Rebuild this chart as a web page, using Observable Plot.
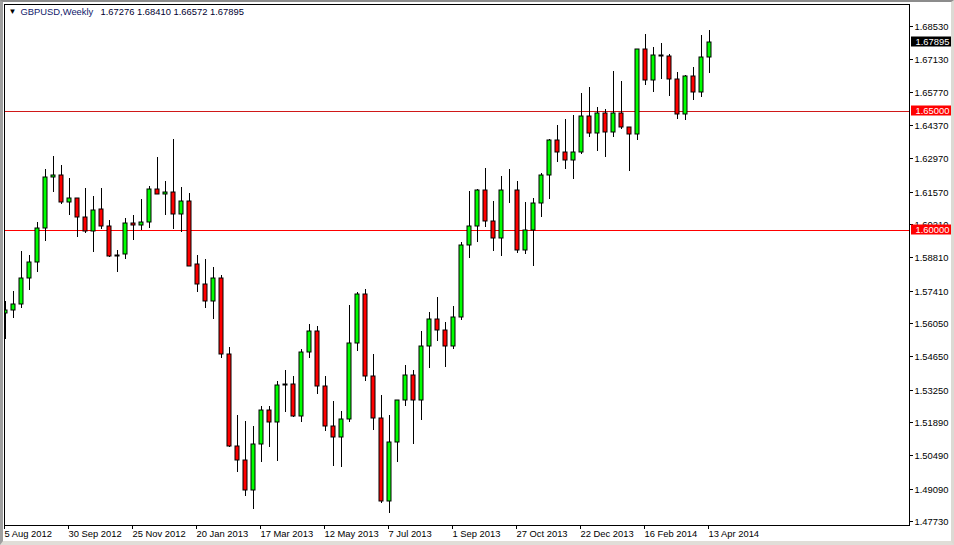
<!DOCTYPE html>
<html><head><meta charset="utf-8">
<script src="https://cdn.jsdelivr.net/npm/d3@7"></script>
<script src="https://cdn.jsdelivr.net/npm/@observablehq/plot@0.6"></script>
<style>
html,body{margin:0;padding:0;background:#fff}
#chart{position:relative;width:954px;height:545px;overflow:hidden}
#chart svg{display:block}
#chrome{position:absolute;inset:0;box-sizing:border-box;border-left:3px solid #a0a0a0;border-top:2px solid #8c8c8c;border-right:3px solid #dcdad4;border-bottom:4px solid #e0ded8;pointer-events:none}
</style></head><body>
<div id="chart"><div id="chrome"></div></div>
<script>
const symbol = "GBPUSD,Weekly";
const ohlcText = "1.67276 1.68410 1.66572 1.67895";
const opens = [1.56488,1.56622,1.56874,1.57967,1.58639,1.60068,1.6221,1.62294,1.61185,1.61328,1.6053,1.59941,1.60866,1.60152,1.58933,1.58975,1.60278,1.60194,1.6032,1.61706,1.61496,1.6158,1.60656,1.61202,1.58555,1.57715,1.57,1.57967,1.54773,1.50933,1.50319,1.49059,1.50992,1.5242,1.51942,1.53471,1.53513,1.52194,1.54857,1.5574,1.53429,1.51748,1.51286,1.52042,1.55236,1.57294,1.53849,1.52084,1.48597,1.51076,1.5284,1.53891,1.5284,1.55122,1.56244,1.55782,1.55135,1.56328,1.59353,1.60152,1.61664,1.60362,1.59647,1.61664,1.6169,1.59168,1.59984,1.61118,1.62294,1.63765,1.63261,1.6295,1.63261,1.64773,1.64084,1.64899,1.64126,1.64899,1.64336,1.64042,1.67589,1.66286,1.67336,1.67294,1.66353,1.64883,1.66454,1.65782,1.67276];
const highs = [1.57013,1.57433,1.59114,1.58946,1.6032,1.62547,1.63105,1.62727,1.62181,1.61328,1.61761,1.61425,1.61761,1.60416,1.59156,1.605,1.60626,1.61299,1.61845,1.63063,1.62055,1.6382,1.6179,1.61538,1.58946,1.58778,1.58441,1.58105,1.55067,1.52223,1.51971,1.51761,1.52601,1.52601,1.53639,1.54114,1.53849,1.54983,1.56034,1.55962,1.53849,1.52811,1.52378,1.56845,1.57378,1.57517,1.54786,1.53063,1.52223,1.5284,1.54324,1.54114,1.55752,1.56538,1.57181,1.5613,1.56803,1.59492,1.61635,1.61706,1.62601,1.61215,1.62265,1.62559,1.62055,1.61173,1.61341,1.62391,1.63807,1.64408,1.6466,1.64828,1.65752,1.66005,1.65164,1.6508,1.66677,1.66257,1.64336,1.67589,1.68231,1.67685,1.67853,1.67391,1.66635,1.66509,1.66845,1.68189,1.6841];
const lows = [1.55416,1.56311,1.56731,1.57488,1.58244,1.59547,1.61605,1.61101,1.60626,1.59715,1.59883,1.59084,1.60051,1.58849,1.58244,1.5879,1.59588,1.59984,1.60093,1.61496,1.60639,1.60051,1.59899,1.58496,1.57404,1.56731,1.56257,1.54605,1.50891,1.4984,1.48832,1.48286,1.50261,1.50891,1.50303,1.52362,1.52152,1.51942,1.5463,1.53118,1.51563,1.50093,1.50051,1.51942,1.54925,1.5366,1.51605,1.48538,1.48118,1.50261,1.52601,1.51004,1.52013,1.5421,1.55332,1.54252,1.54996,1.56215,1.58832,1.59492,1.60122,1.59114,1.58904,1.6113,1.5903,1.58988,1.58484,1.60542,1.61299,1.62853,1.62559,1.62139,1.63202,1.63916,1.63328,1.63076,1.63916,1.64252,1.62475,1.63778,1.66101,1.65807,1.66341,1.65639,1.64673,1.64631,1.65471,1.65584,1.66572];
const closes = [1.56614,1.56874,1.57967,1.58639,1.60068,1.6221,1.62294,1.61185,1.61328,1.6053,1.59941,1.60824,1.60152,1.58891,1.58891,1.60278,1.60194,1.6032,1.61706,1.61496,1.6158,1.60656,1.61202,1.58496,1.57715,1.57,1.57967,1.54773,1.50933,1.50319,1.49059,1.50992,1.5242,1.51942,1.53471,1.53513,1.52194,1.54857,1.5574,1.53429,1.51748,1.51286,1.52042,1.55236,1.57294,1.53849,1.52084,1.48597,1.51076,1.5284,1.53891,1.5284,1.55122,1.56244,1.55782,1.55135,1.56328,1.59353,1.60152,1.61664,1.60362,1.59647,1.61664,1.6169,1.59168,1.59984,1.61118,1.62294,1.63765,1.63261,1.6295,1.63261,1.64773,1.64084,1.64899,1.64126,1.64899,1.64336,1.64042,1.67589,1.66286,1.67336,1.67294,1.66353,1.64883,1.66454,1.65782,1.67276,1.67895];
const priceTicks = [1.6853,1.6713,1.6577,1.6437,1.6297,1.6157,1.6021,1.5881,1.5741,1.5605,1.5465,1.5325,1.5189,1.5049,1.4909,1.4773];
const dateLabels = ["5 Aug 2012","30 Sep 2012","25 Nov 2012","20 Jan 2013","17 Mar 2013","12 May 2013","7 Jul 2013","1 Sep 2013","27 Oct 2013","22 Dec 2013","16 Feb 2014","13 Apr 2014"];
const dateTickIndex = [0,8,16,24,32,40,48,56,64,72,80,88];
const levels = [1.65,1.6];
const levelColors = ["#d01818","#ff0000"];
const lastPrice = 1.67895;

const candles = opens.map((o,i)=>({i,o,h:highs[i],l:lows[i],c:closes[i]}));
const font = "'Liberation Sans', Arial, sans-serif";
const tagX1 = 113.25, tagX2 = 118.5, textX = 113.75;
const tags = [
  {p:levels[0],bg:"#ff0000"},
  {p:levels[1],bg:"#ff0000"},
  {p:lastPrice,bg:"#000000"}
];

const chart = Plot.plot({
  width:954,height:545,
  marginLeft:4,marginRight:45,marginTop:4,marginBottom:20,
  style:{fontFamily:font,fontSize:"9.4px",background:"#fff",color:"#000"},
  x:{domain:[-0.125,113],axis:null,label:null},
  y:{domain:[1.47601,1.69492],round:true,axis:null,label:null},
  marks:[
    Plot.ruleY(levels,{stroke:(d,k)=>levelColors[k],strokeWidth:1}),
    Plot.ruleX(candles,{x:"i",y1:"l",y2:"h",stroke:"#000",strokeWidth:1,clip:true}),
    Plot.rect(candles,{x1:d=>d.i-0.25,x2:d=>d.i+0.25,y1:"o",y2:"c",fill:d=>d.c>=d.o?"#00ff00":"#ff0000",stroke:"#000",strokeWidth:1,clip:true}),
    Plot.frame({stroke:"#000",strokeWidth:1}),
    Plot.axisY(priceTicks,{anchor:"right",label:null,tickSize:3,tickPadding:2,dy:-1,tickFormat:d=>d.toFixed(5),stroke:"#000",fill:"#000",marginRight:45}),
    Plot.axisX(dateTickIndex,{anchor:"bottom",label:null,tickSize:4,tickPadding:1,tickFormat:d=>dateLabels[dateTickIndex.indexOf(d)],textAnchor:"start",dx:-1,stroke:"#000",fill:"#000",lineAnchor:"top"}),
    Plot.ruleY(tags,{y:"p",x1:()=>tagX1,x2:()=>tagX2,stroke:"bg",strokeWidth:10,dy:-1}),
    Plot.text(tags,{y:"p",x:()=>textX,text:d=>d.p.toFixed(5),fill:"#fff",textAnchor:"start",dy:-1}),
    Plot.text([symbol],{frameAnchor:"top-left",dx:16,dy:4,fill:"#10206a",textAnchor:"start",lineAnchor:"top"}),
    Plot.text(["▼"],{frameAnchor:"top-left",dx:4,dy:4,fill:"#000",fontSize:8,textAnchor:"start",lineAnchor:"top"}),
    Plot.text([ohlcText],{frameAnchor:"top-left",dx:96,dy:4,fill:"#000030",textAnchor:"start",lineAnchor:"top"})
  ]
});
document.getElementById("chart").prepend(chart);
</script></body></html>
